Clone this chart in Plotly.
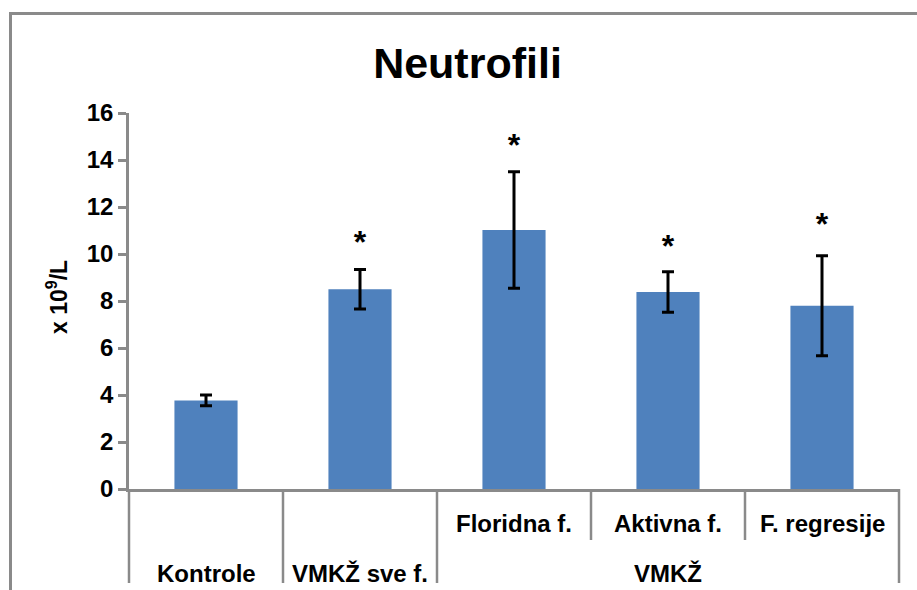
import plotly.graph_objects as go

# ---- data ----
categories = ["Kontrole", "VMKŽ sve f.", "Floridna f.", "Aktivna f.", "F. regresije"]
row1_labels = ["", "", "Floridna f.", "Aktivna f.", "F. regresije"]
row2_labels = ["Kontrole", "VMKŽ sve f.", "", "VMKŽ", ""]
values = [3.77, 8.50, 11.02, 8.38, 7.80]
errors = [0.23, 0.84, 2.48, 0.86, 2.13]
stars = ["", "*", "*", "*", "*"]
star_y = [0, 10.40, 14.50, 10.22, 11.15]
y_ticks = [0, 2, 4, 6, 8, 10, 12, 14, 16]

W, H = 917, 590
L, R, T, B = 129, 18, 113, 101
PW, PH = W - L - R, H - T - B
GRAY = "#8a8a8a"
FONT = "Liberation Sans, Arial, sans-serif"


def px_x(px):
    return (px - L) / PW


def px_y(py):
    return (H - B - py) / PH


fig = go.Figure()
fig.add_trace(go.Bar(
    x=categories, y=values, width=0.41,
    marker=dict(color="#4F81BD", line=dict(width=0)),
    error_y=dict(type="data", array=errors, visible=True,
                 color="black", thickness=3, width=6),
    showlegend=False, hoverinfo="skip",
))
fig.add_trace(go.Scatter(
    x=[c for c, s in zip(categories, stars) if s],
    y=[v for v, s in zip(star_y, stars) if s],
    text=[s for s in stars if s],
    mode="text", textposition="middle center",
    textfont=dict(family=FONT, size=32, color="black", weight="bold"),
    showlegend=False, hoverinfo="skip", cliponaxis=False,
))

shapes = []
# separators below the x axis
n = len(categories)
full = [0, 1, 2, 5]
short = [3, 4]
for i in full:
    shapes.append(dict(type="line", xref="paper", yref="paper",
                       x0=i / n, x1=i / n, y0=0, y1=px_y(583),
                       line=dict(color=GRAY, width=2.5)))
for i in short:
    shapes.append(dict(type="line", xref="paper", yref="paper",
                       x0=i / n, x1=i / n, y0=0, y1=px_y(540),
                       line=dict(color=GRAY, width=2.5)))
# outer chart border
shapes.append(dict(type="line", xref="paper", yref="paper",
                   x0=px_x(10.5), x1=px_x(930), y0=px_y(13.5), y1=px_y(13.5),
                   line=dict(color=GRAY, width=3)))
shapes.append(dict(type="line", xref="paper", yref="paper",
                   x0=px_x(10.5), x1=px_x(10.5), y0=px_y(12), y1=px_y(600),
                   line=dict(color=GRAY, width=3)))

annotations = []
for c, lab in zip(categories, row1_labels):
    if lab:
        annotations.append(dict(x=c, xref="x", y=px_y(523), yref="paper",
                                text=lab, showarrow=False, yanchor="middle",
                                font=dict(family=FONT, size=24, color="black", weight="bold")))
for c, lab in zip(categories, row2_labels):
    if lab:
        annotations.append(dict(x=c, xref="x", y=px_y(573), yref="paper",
                                text=lab, showarrow=False, yanchor="middle",
                                font=dict(family=FONT, size=24, color="black", weight="bold")))
annotations.append(dict(x=px_x(57), xref="paper", y=px_y(297), yref="paper",
                        text="x 10<sup>9</sup>/L", textangle=-90, showarrow=False,
                        xanchor="center", yanchor="middle",
                        font=dict(family=FONT, size=23, color="black", weight="bold")))

fig.update_layout(
    width=W, height=H,
    margin=dict(l=L, r=R, t=T, b=B, pad=0),
    paper_bgcolor="white", plot_bgcolor="white",
    title=dict(text="Neutrofili", x=467.5 / W, xanchor="center",
               y=1 - 63 / H, yanchor="middle", yref="container",
               font=dict(family=FONT, size=43, color="black", weight="bold")),
    xaxis=dict(range=[-0.5, n - 0.5], showline=True, linecolor=GRAY, linewidth=2.5,
               showticklabels=False, ticks="", showgrid=False, zeroline=False,
               fixedrange=True),
    yaxis=dict(range=[0, 16], tickvals=y_ticks, ticks="outside", ticklen=8,
               tickwidth=2.5, tickcolor=GRAY, showline=True, linecolor=GRAY,
               linewidth=2.5, showgrid=False, zeroline=False,
               tickfont=dict(family=FONT, size=24, color="black", weight="bold"),
               fixedrange=True),
    shapes=shapes, annotations=annotations,
    bargap=0.59,
)

fig.write_html("out.html")
